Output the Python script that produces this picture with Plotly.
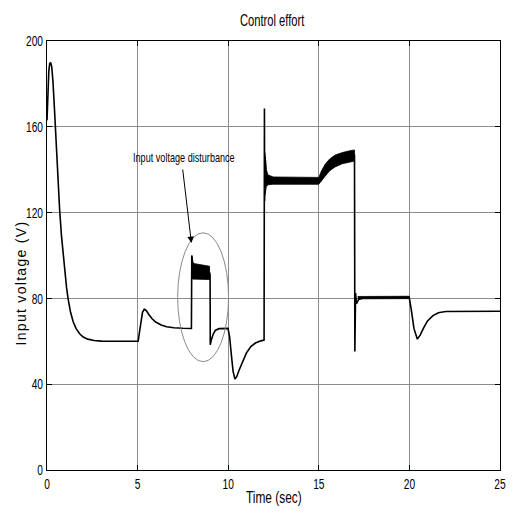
import plotly.graph_objects as go

# Control voltage trace (time in seconds, voltage in volts)
time_s = [0.00, 0.05, 0.10, 0.15, 0.20, 0.26, 0.33, 0.42, 0.52, 0.62, 0.70, 0.80,
          0.90, 1.00, 1.08, 1.16, 1.30, 1.45, 1.60, 1.80, 2.00, 2.25, 2.60, 3.00,
          4.00, 5.03, 5.10, 5.18, 5.27, 5.37, 5.48, 5.62, 5.80, 6.00, 6.30, 6.60,
          7.00, 7.50, 7.97, 7.99, 8.05, 8.50, 8.97, 9.00, 9.01, 9.08, 9.18, 9.30,
          9.50, 9.99, 10.08, 10.17, 10.27, 10.37, 10.47, 10.60, 10.80, 11.00, 11.25,
          11.50, 11.80, 11.98, 12.00, 12.01, 12.04, 12.08, 12.15, 12.30, 15.00,
          15.20, 15.50, 15.80, 16.20, 16.60, 16.97, 16.99, 17.03, 17.08, 17.20,
          17.50, 19.99, 20.10, 20.25, 20.44, 20.60, 20.80, 21.00, 21.30, 21.60,
          22.00, 25.00]
voltage_v = [163, 178, 186, 189.5, 190, 188, 181, 167, 149, 133, 121, 109,
             99, 91, 85, 80, 73.5, 69, 66, 63.5, 62, 61, 60.4, 60.1,
             60, 60, 64, 69, 73.5, 75, 74.3, 72.5, 70.5, 69, 67.6, 66.8,
             66.3, 66.1, 66, 100, 96, 92, 92, 91, 58.4, 61, 63.5, 65.2,
             65.9, 66, 62, 54, 46, 42.4, 43.5, 46.5, 51, 54.5, 57.5,
             59.2, 60.2, 60.6, 168.5, 125.4, 146, 139, 136, 135, 135,
             137.5, 141, 143.3, 145.2, 146.2, 146.7, 55.3, 82.5, 77.5, 79.5,
             80.3, 80.5, 75, 66, 61, 63, 66.5, 69.5, 72, 73.3,
             73.9, 74]

# Envelopes of the high-frequency ripple during the disturbance
ripple1_t = [8.00, 8.03, 8.08, 8.30, 8.60, 8.97]
ripple1_hi = [100, 97.0, 96.3, 96.0, 95.5, 95.0]
ripple1_lo = [89.5, 89.0, 88.8, 88.8, 88.8, 88.8]

# Envelopes of the ripple between 12 s and 17 s
ripple2_t = [12.03, 12.10, 12.20, 12.50, 15.00, 15.15, 15.35, 15.60, 15.90,
             16.30, 16.70, 16.97]
ripple2_hi = [148, 140, 137.5, 136.6, 136.4, 139.5, 142.5, 145.0, 146.8,
              148.0, 148.8, 149.2]
ripple2_lo = [128, 132, 133.0, 133.2, 133.2, 134.8, 137.0, 139.5, 141.3,
              142.8, 143.6, 144.0]

# Ripple envelope on the 80 V plateau
ripple3_t = [17.15, 19.99]
ripple3_hi = [80.9, 81.0]
ripple3_lo = [79.8, 79.9]

x_ticks = [0, 5, 10, 15, 20, 25]
y_ticks = [0, 40, 80, 120, 160, 200]

# Annotation geometry (data units)
note_text = "Input voltage disturbance"
note_pos = (4.66, 145.5)
arrow_tail = (7.48, 140.8)
arrow_head = (7.97, 105.8)
ellipse_t = (7.21, 10.02)
ellipse_v = (50.5, 110.6)

FONT = "Liberation Sans, Arial, sans-serif"

fig = go.Figure()


def band(t, hi, lo):
    return go.Scatter(
        x=list(t) + list(reversed(t)),
        y=list(hi) + list(reversed(lo)),
        fill="toself", fillcolor="black", mode="lines",
        line=dict(color="black", width=0.8),
        hoverinfo="skip", showlegend=False,
    )


fig.add_trace(go.Scatter(x=time_s, y=voltage_v, mode="lines",
                         line=dict(color="black", width=1.6),
                         showlegend=False))
fig.add_trace(band(ripple1_t, ripple1_hi, ripple1_lo))
fig.add_trace(band(ripple2_t, ripple2_hi, ripple2_lo))
fig.add_trace(band(ripple3_t, ripple3_hi, ripple3_lo))

fig.add_shape(type="circle", xref="x", yref="y",
              x0=ellipse_t[0], x1=ellipse_t[1], y0=ellipse_v[0], y1=ellipse_v[1],
              line=dict(color="#8a8a8a", width=1))

fig.add_annotation(x=arrow_head[0], y=arrow_head[1], ax=arrow_tail[0], ay=arrow_tail[1],
                   xref="x", yref="y", axref="x", ayref="y", text="",
                   showarrow=True, arrowhead=2, arrowsize=1.3, arrowwidth=1,
                   arrowcolor="black")
fig.add_annotation(x=note_pos[0], y=note_pos[1], xref="x", yref="y",
                   text=note_text, showarrow=False, xanchor="left", yanchor="middle",
                   font=dict(family=FONT, size=13, color="black"))

# Titles
fig.add_annotation(x=0.497, y=1.047, xref="paper", yref="paper", text="Control effort",
                   showarrow=False, xanchor="center", yanchor="middle",
                   font=dict(family=FONT, size=16, color="black"))
fig.add_annotation(x=0.5, y=-0.063, xref="paper", yref="paper", text="Time (sec)",
                   showarrow=False, xanchor="center", yanchor="middle",
                   font=dict(family=FONT, size=17, color="black"))
fig.add_annotation(x=-0.0564, y=0.436, xref="paper", yref="paper",
                   text="Input voltage (V)", textangle=-90,
                   showarrow=False, xanchor="center", yanchor="middle",
                   font=dict(family=FONT, size=14, color="black"))

axis_common = dict(
    showline=True, linecolor="black", linewidth=1, mirror="ticks",
    ticks="inside", ticklen=5, tickcolor="black", tickwidth=1,
    showgrid=True, gridcolor="#8c8c8c", gridwidth=1, zeroline=False,
    tickfont=dict(family=FONT, size=15, color="black"),
)

fig.update_xaxes(range=[0, 25], tickvals=x_ticks, ticktext=[str(v) for v in x_ticks],
                 **axis_common)
fig.update_yaxes(range=[0, 200], tickvals=y_ticks, ticktext=[str(v) for v in y_ticks],
                 **axis_common)

fig.update_layout(
    width=518, height=517,
    margin=dict(l=47, r=10, t=41, b=47),
    plot_bgcolor="white", paper_bgcolor="white",
    showlegend=False,
)

# Condensed lettering for labels, spaced lettering for the y-axis title
post_js = """
var gd = document.getElementById('{plot_id}');
function condense() {
  gd.querySelectorAll('g.xtick > text, g.ytick > text').forEach(function (t) {
    var tr = t.getAttribute('transform') || '';
    if (tr.indexOf('scale') >= 0) { return; }
    var ax = parseFloat(t.getAttribute('x') || '0') || 0;
    t.setAttribute('transform', tr + ' translate(' + ax + ',0) scale(0.68,1) translate(' + (-ax) + ',0)');
  });
  gd.querySelectorAll('text.annotation-text').forEach(function (t) {
    var s = t.textContent;
    if (s.indexOf('Input voltage (V)') === 0) {
      t.style.letterSpacing = '1.3px';
      return;
    }
    t.style.transformBox = 'fill-box';
    t.style.transformOrigin = (s.indexOf('disturbance') >= 0) ? 'left center' : 'center';
    t.style.transform = 'scaleX(0.7)';
  });
}
condense();
gd.on('plotly_afterplot', condense);
"""

fig.write_html("out.html", post_script=post_js)
